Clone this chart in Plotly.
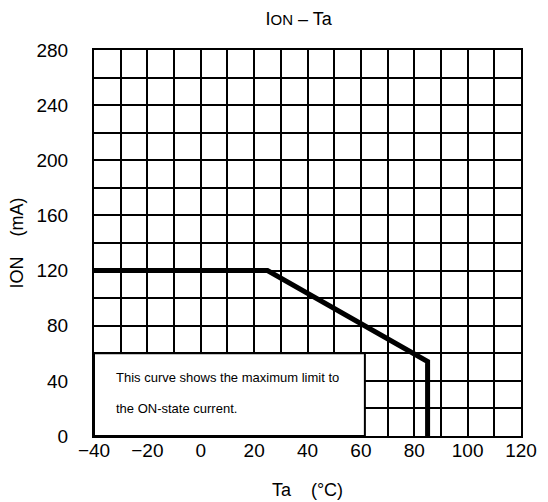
import plotly.graph_objects as go

# Data
ta_c = [-40, 25, 85, 85]
ion_ma = [120, 120, 54, 0]

x_ticks = [-40, -20, 0, 20, 40, 60, 80, 100, 120]
y_ticks = [0, 40, 80, 120, 160, 200, 240, 280]

note_lines = ["This curve shows the maximum limit to", "the ON-state current."]
note_box = {"x0": -40, "x1": 61.5, "y0": 0, "y1": 60}

font = "Liberation Sans, Arial, sans-serif"

fig = go.Figure()
fig.add_trace(go.Scatter(
    x=ta_c, y=ion_ma, mode="lines",
    line=dict(color="black", width=5),
    showlegend=False, hoverinfo="skip",
))

fig.add_shape(type="rect", xref="x", yref="y",
              x0=note_box["x0"], x1=note_box["x1"], y0=note_box["y0"], y1=note_box["y1"],
              fillcolor="white", line=dict(color="black", width=2), layer="above")

fig.add_annotation(x=note_box["x0"], y=note_box["y1"], xref="x", yref="y",
                   text=note_lines[0], showarrow=False, xanchor="left", yanchor="middle",
                   xshift=20, yshift=-24, font=dict(family=font, size=13, color="black"))
fig.add_annotation(x=note_box["x0"], y=note_box["y1"], xref="x", yref="y",
                   text=note_lines[1], showarrow=False, xanchor="left", yanchor="middle",
                   xshift=20, yshift=-55, font=dict(family=font, size=13, color="black"))

fig.update_layout(
    width=548, height=502,
    margin=dict(l=94, r=27, t=50, b=66, autoexpand=False),
    paper_bgcolor="white", plot_bgcolor="white",
    font=dict(family=font, color="black"),
    title=dict(text="I<span style='font-size:15px'>ON</span> – Ta", x=0.545, xanchor="center",
               xref="container", y=0.962, yanchor="middle", font=dict(size=18, color="black")),
    xaxis=dict(range=[-40, 120], tickvals=x_ticks, showgrid=True, gridcolor="black", gridwidth=2,
               minor=dict(dtick=10, tick0=-40, showgrid=True, gridcolor="black", gridwidth=2),
               zeroline=False, showline=True, linecolor="black", linewidth=2, mirror=True,
               automargin=False,
               ticks="", tickfont=dict(size=19, color="black"), ticklabelstandoff=-4,
               title=dict(text="Ta &nbsp;&nbsp;&nbsp;(°C)", font=dict(size=18), standoff=24)),
    yaxis=dict(range=[0, 280], tickvals=y_ticks, showgrid=True, gridcolor="black", gridwidth=2,
               minor=dict(dtick=20, tick0=0, showgrid=True, gridcolor="black", gridwidth=2),
               zeroline=False, showline=True, linecolor="black", linewidth=2, mirror=True,
               automargin=False,
               ticks="", tickfont=dict(size=19, color="black"), ticklabelstandoff=20,
               title=dict(text="ION &nbsp;&nbsp;&nbsp;(mA)", font=dict(size=18), standoff=8)),
)

fig.write_html("out.html")
